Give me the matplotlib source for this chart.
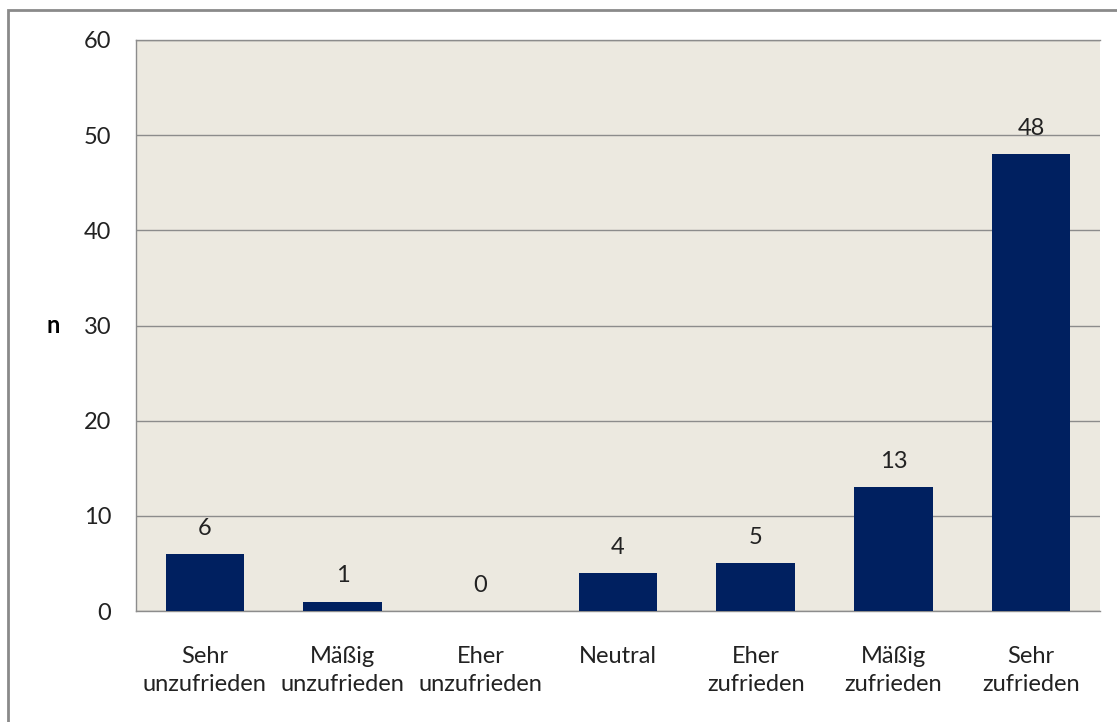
import matplotlib.pyplot as plt
from matplotlib.patches import Rectangle

# === DATA ===
categories = ['Sehr\nunzufrieden', 'Mäßig\nunzufrieden', 'Eher\nunzufrieden', 'Neutral',
              'Eher\nzufrieden', 'Mäßig\nzufrieden', 'Sehr\nzufrieden']
counts = [6, 1, 0, 4, 5, 13, 48]
y_ticks = [0, 10, 20, 30, 40, 50, 60]

bar_color = '#002060'
bg_color = '#ECE9E0'
grid_color = '#8C8C8C'
text_color = '#222222'
fs = 17

plt.rcParams['font.family'] = ['Lato', 'DejaVu Sans']

fig = plt.figure(figsize=(11.17, 7.22), dpi=100)
ax = fig.add_axes([0.1218, 0.1537, 0.8630, 0.7909])

# outer chart frame
fig.patches.append(Rectangle((8 / 1117, -0.01), 1.02, 1 - 10 / 722 + 0.01,
                             transform=fig.transFigure, fill=False,
                             edgecolor='#8A8A8A', linewidth=2))

x = range(len(categories))
ax.set_facecolor(bg_color)
ax.bar(x, counts, width=0.57, color=bar_color, zorder=3)

for xi, v in zip(x, counts):
    ax.annotate(str(v), (xi, v), xytext=(0, 11), textcoords='offset points',
                ha='center', va='bottom', fontsize=fs, color=text_color)

ax.set_xlim(-0.5, len(categories) - 0.5)
ax.set_ylim(0, 60)
ax.set_yticks(y_ticks)
ax.yaxis.grid(True, color=grid_color, linewidth=1, zorder=0)
ax.set_axisbelow(True)
ax.set_xticks(list(x))
ax.set_xticklabels(categories, fontsize=fs, color=text_color, linespacing=1.45)
ax.tick_params(axis='x', length=0, pad=25)
ax.tick_params(axis='y', length=0, pad=18, labelsize=fs, labelcolor=text_color)

for side in ['top', 'right', 'left', 'bottom']:
    ax.spines[side].set_color(grid_color)
    ax.spines[side].set_linewidth(1)
ax.spines['right'].set_visible(False)

ax.set_ylabel('n', rotation=0, fontsize=fs, fontweight='bold', labelpad=22, va='center')

plt.savefig('out.png', dpi=100)
